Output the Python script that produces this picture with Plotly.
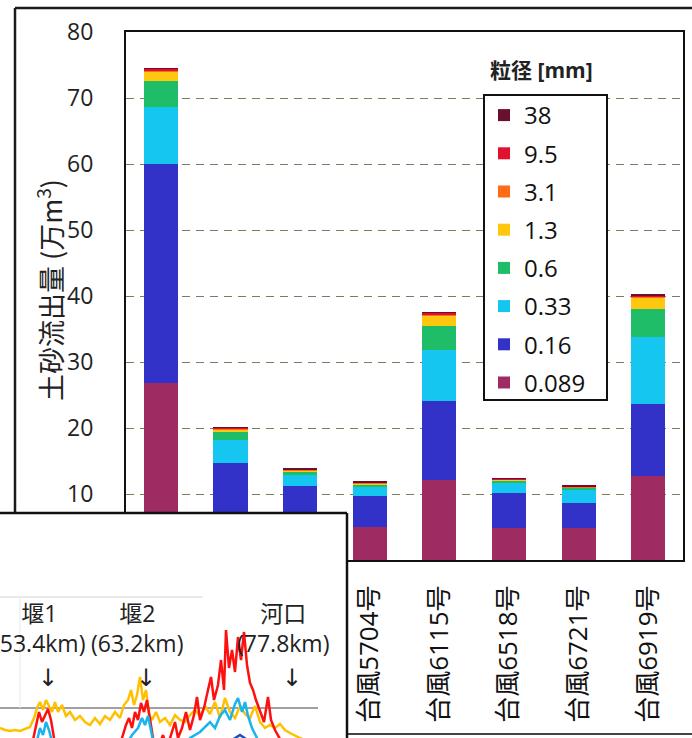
import plotly.graph_objects as go

W, H = 692, 738

# ---- stacked sediment discharge by grain size (万m3) ----
typhoons = ["台風5313号", "台風5415号", "台風5522号", "台風5704号",
            "台風6115号", "台風6518号", "台風6721号", "台風6919号"]
grain_sizes = ["0.089", "0.16", "0.33", "0.6", "1.3", "3.1", "9.5", "38"]
sed_0089 = [26.8, 5.5, 4.5, 5.0, 12.1, 4.8, 4.8, 12.7]
sed_016 = [33.2, 9.2, 6.7, 4.7, 12.0, 5.4, 3.9, 10.9]
sed_033 = [8.6, 3.5, 1.7, 1.4, 7.7, 1.5, 1.9, 10.2]
sed_06 = [4.0, 1.3, 0.5, 0.4, 3.7, 0.4, 0.35, 4.2]
sed_13 = [1.4, 0.3, 0.2, 0.15, 1.6, 0.1, 0.1, 1.7]
sed_31 = [0.15, 0.1, 0.05, 0.05, 0.15, 0.05, 0.05, 0.2]
sed_95 = [0.25, 0.15, 0.1, 0.1, 0.2, 0.1, 0.1, 0.25]
sed_38 = [0.05, 0.05, 0.05, 0.03, 0.05, 0.03, 0.03, 0.05]
y_ticks = [0, 10, 20, 30, 40, 50, 60, 70, 80]

# ---- longitudinal profile inset (distance km, relative height) ----
weir_names = ["堰1", "堰2", "河口"]
weir_km = [53.4, 63.2, 77.8]

yellow_km = [48.6, 49.1, 49.6, 50.1, 50.6, 51.1, 51.6, 52.0, 52.3, 52.6, 52.9, 53.2,
             53.5, 53.8, 54.1, 54.4, 54.8, 55.2, 55.6, 56.1, 56.6, 57.1, 57.6, 58.1,
             58.6, 59.1, 59.6, 60.1, 60.6, 61.0, 61.4, 61.7, 62.0, 62.3, 62.6, 62.9,
             63.2, 63.5, 63.8, 64.2, 64.6, 65.1, 65.6, 66.1, 66.6, 67.1, 67.6, 68.1,
             68.6, 69.1, 69.6, 70.1, 70.6, 71.1, 71.6, 72.1, 72.6, 73.1, 73.6, 74.1,
             74.6, 75.1, 75.6, 76.1, 76.6, 77.1, 77.6, 78.6, 79.6, 80.4]
yellow_h = [-20, -22, -23, -22, -23, -21, -19, -10, 0, 6, -2, 8,
            2, -4, 6, -4, 3, -8, -4, -12, -8, -14, -17, -10,
            -16, -8, -12, -4, -10, 3, 8, 18, 3, 13, 31, 8,
            18, -7, -12, -4, -14, -10, -17, -7, -12, -14, -7, -2,
            -8, 2, -6, 6, -10, 10, -4, -10, 2, -6, -10, 2,
            -14, -20, -17, -20, -16, -22, -25, -30, -34, -36]

red_km = [48.6, 51.6, 51.9, 52.2, 52.5, 52.8, 53.1, 53.4, 53.7, 54.0, 54.3, 60.6,
          60.8, 61.2, 61.5, 61.8, 62.1, 62.4, 62.7, 63.0, 63.3, 63.6, 63.9, 64.4,
          64.9, 65.3, 65.8, 66.1, 66.4, 66.8, 67.2, 67.6, 68.0, 68.3, 68.6, 69.0,
          69.4, 69.7, 70.0, 70.4, 70.7, 71.0, 71.2, 71.5, 71.8, 72.1, 72.4, 72.7,
          73.0, 73.3, 73.6, 73.9, 74.2, 74.6, 75.0, 75.4, 75.7, 76.1, 76.6, 77.1]
red_h = [-40, -40, -32, -17, -4, -14, -7, -1, -12, -30, -40, -40,
         -30, -17, -10, -20, -4, -12, 5, -4, 8, -10, -30, -40,
         -27, -40, -22, -14, -30, -20, -4, -22, -7, 11, -12, 0,
         18, 31, 8, 23, 48, 18, 78, 40, 58, 36, 71, 48,
         76, 43, 25, 18, 8, -4, -14, 11, -12, -22, -30, -40]

cyan_km = [48.6, 51.6, 52.2, 52.6, 52.9, 53.2, 53.5, 53.8, 54.2, 60.6, 61.2, 61.8,
           62.4, 62.8, 63.1, 63.4, 63.7, 64.1, 66.6, 67.6, 68.6, 69.6, 70.1, 70.6,
           71.1, 71.6, 72.1, 72.4, 72.8, 73.1, 73.4, 73.8, 74.4, 75.1, 80.4]
cyan_h = [-50, -50, -37, -20, -27, -14, -22, -37, -50, -50, -37, -27,
          -20, -10, -17, -8, -24, -42, -42, -30, -24, -14, -20, -8,
          -2, -12, 4, 10, -4, 6, -8, -20, -32, -44, -50]

blue_km = [48.6, 52.6, 53.1, 53.6, 62.6, 63.1, 63.6, 70.6, 71.8, 72.6, 73.2, 73.8, 74.6, 80.4]
blue_h = [-62, -40, -33, -44, -40, -32, -44, -42, -32, -27, -31, -36, -46, -62]

bar_series = [
    ("0.089", sed_0089, "#9e2c62"),
    ("0.16", sed_016, "#3232c8"),
    ("0.33", sed_033, "#14c6f0"),
    ("0.6", sed_06, "#20bd68"),
    ("1.3", sed_13, "#ffc70e"),
    ("3.1", sed_31, "#ff6a14"),
    ("9.5", sed_95, "#e0102e"),
    ("38", sed_38, "#6a0f30"),
]


def px(x):
    return x / W


def py(y):
    return 1 - y / H


fig = go.Figure()

n_series = len(bar_series)
for i, (name, vals, col) in enumerate(bar_series):
    fig.add_trace(go.Bar(
        x=typhoons, y=vals, name=name, legendgroup=name, legendrank=n_series - i,
        marker=dict(color=col, line=dict(width=0)),
        hoverinfo="skip",
    ))

for km, h, col in [(yellow_km, yellow_h, "#ffc000"), (red_km, red_h, "#ff1010"),
                   (cyan_km, cyan_h, "#18b4ee"), (blue_km, blue_h, "#2050c0")]:
    fig.add_trace(go.Scatter(
        x=km, y=h, mode="lines", xaxis="x2", yaxis="y2",
        line=dict(color=col, width=2.5), showlegend=False, hoverinfo="skip",
    ))

NUM_FONT = "Open Sans, Noto Sans CJK JP, sans-serif"
CJK_FONT = "Noto Sans CJK JP, sans-serif"

fig.update_layout(
    template="none",
    width=W, height=H,
    margin=dict(l=0, r=0, t=0, b=0, autoexpand=False),
    paper_bgcolor="white", plot_bgcolor="white",
    font=dict(family=NUM_FONT, color="#222"),
    barmode="stack", bargap=0.51,
    showlegend=True,
    legend=dict(
        x=px(484), y=py(93), xanchor="left", yanchor="top",
        traceorder="grouped", tracegroupgap=4,
        bgcolor="rgba(0,0,0,0)", borderwidth=0,
        font=dict(family=NUM_FONT, size=24, color="#111"),
    ),
    xaxis=dict(
        domain=[px(126), px(683)], anchor="y", automargin=False,
        showline=True, mirror=True, linecolor="#111", linewidth=2,
        ticks="", tickangle=-90, ticklabelstandoff=13,
        tickfont=dict(family=NUM_FONT, size=26, color="#111"),
        showgrid=False, zeroline=False,
    ),
    yaxis=dict(
        domain=[py(560), py(32)], anchor="x", automargin=False,
        range=[0, 80], tickvals=y_ticks, ticktext=[str(v) for v in y_ticks],
        showline=True, mirror=True, linecolor="#111", linewidth=2,
        ticks="", ticklabelstandoff=26,
        tickfont=dict(family=NUM_FONT, size=23, color="#222"),
        showgrid=True, gridcolor="#7d7d5c", gridwidth=1.2, griddash="8px,6px",
        zeroline=False,
    ),
    xaxis2=dict(
        domain=[0, px(347)], anchor="y2", range=[48.6, 83.3], automargin=False,
        visible=False, showgrid=False, zeroline=False,
    ),
    yaxis2=dict(
        domain=[0, py(513)], anchor="x2", range=[-30, 195], automargin=False,
        visible=False, showgrid=False, zeroline=False,
    ),
)

shapes = []
# legend box
shapes.append(dict(type="rect", xref="paper", yref="paper", x0=px(484), x1=px(607),
                   y0=py(400), y1=py(95), fillcolor="white",
                   line=dict(color="#111", width=2), layer="above"))
# outer figure frame
shapes.append(dict(type="line", xref="paper", yref="paper", x0=px(15), x1=px(W + 5),
                   y0=py(8), y1=py(8), line=dict(color="#1a1a1a", width=2.5), layer="above"))
shapes.append(dict(type="line", xref="paper", yref="paper", x0=px(15), x1=px(15),
                   y0=py(8), y1=py(513), line=dict(color="#1a1a1a", width=2.5), layer="above"))
shapes.append(dict(type="line", xref="paper", yref="paper", x0=px(347), x1=px(W + 5),
                   y0=py(734), y1=py(734), line=dict(color="#444", width=2), layer="above"))
# inset frame
shapes.append(dict(type="line", xref="paper", yref="paper", x0=px(-5), x1=px(347),
                   y0=py(513), y1=py(513), line=dict(color="#111", width=2.5), layer="above"))
shapes.append(dict(type="line", xref="paper", yref="paper", x0=px(347), x1=px(347),
                   y0=py(513), y1=py(745), line=dict(color="#111", width=2.5), layer="above"))
# inset reference lines
shapes.append(dict(type="line", xref="x2", yref="y2", x0=48.6, x1=80.4, y0=0, y1=0,
                   line=dict(color="#808080", width=1.5), layer="below"))
shapes.append(dict(type="line", xref="x2", yref="y2", x0=48.6, x1=68.9, y0=111, y1=111,
                   line=dict(color="#d6d6d6", width=1.2), layer="below"))
shapes.append(dict(type="line", xref="x2", yref="y2", x0=50.6, x1=50.6, y0=0, y1=111,
                   line=dict(color="#ececec", width=1.2), layer="below"))

annotations = []
# axis title
annotations.append(dict(
    text="土砂流出量 (万m<sup>3</sup>)", textangle=-90,
    xref="paper", yref="paper", x=px(49), y=py(290), xanchor="center", yanchor="middle",
    showarrow=False, font=dict(family=CJK_FONT, size=27, color="#222"),
))
# legend heading
annotations.append(dict(
    text="<b>粒径 [mm]</b>",
    xref="paper", yref="paper", x=px(541), y=py(70), xanchor="center", yanchor="middle",
    showarrow=False, font=dict(family=NUM_FONT, size=21, color="#222"),
))
# weir / river mouth markers in the inset
for name, km in zip(weir_names, weir_km):
    annotations.append(dict(
        text=f"{name}<br>({km}km)", xref="x2", yref="y2", x=km, y=80,
        xanchor="center", yanchor="middle", xshift=-9, showarrow=False,
        font=dict(family=NUM_FONT, size=23, color="#222"),
    ))
    annotations.append(dict(
        text="↓", xref="x2", yref="y2", x=km, y=30,
        xanchor="center", yanchor="middle", showarrow=False,
        font=dict(family="DejaVu Sans, sans-serif", size=24, color="#222"),
    ))

fig.update_layout(shapes=shapes, annotations=annotations)

fig.write_html("out.html")
